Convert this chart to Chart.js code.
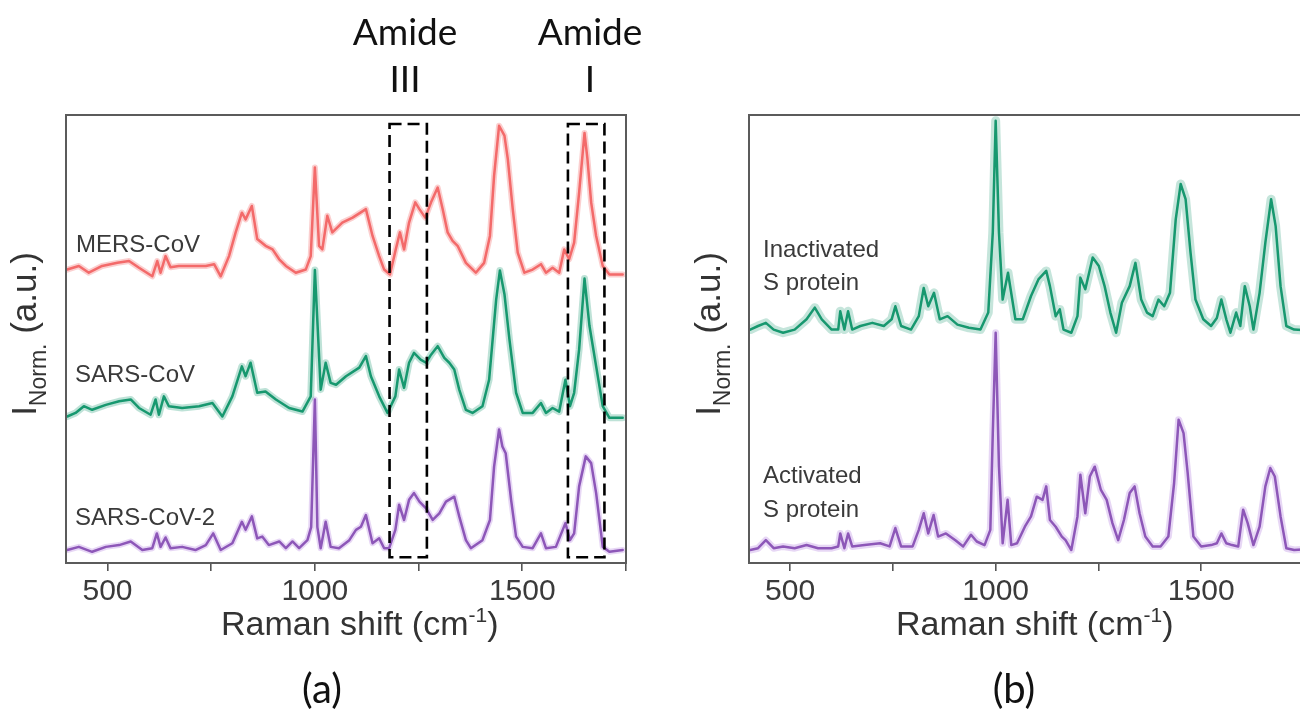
<!DOCTYPE html>
<html>
<head>
<meta charset="utf-8">
<script src="https://cdn.jsdelivr.net/npm/chart.js@4.4.1/dist/chart.umd.min.js"></script>
<style>
  html, body { margin: 0; padding: 0; background: #fff; overflow: hidden; }
  body { width: 1300px; height: 714px; position: relative; }
  canvas { position: absolute; top: 0; }
  #chartA { left: 0; }
  #chartB { left: 690px; }
  .note { position: absolute; font-family: Lato, "Open Sans", sans-serif; color: #111;
          text-align: center; line-height: 1; white-space: nowrap; }
</style>
</head>
<body>
<canvas id="chartA" width="690" height="714"></canvas>
<canvas id="chartB" width="700" height="714"></canvas>

<div class="note" style="left:345px; top:12px; width:120px; font-size:37px;">Amide</div>
<div class="note" style="left:345px; top:59px; width:120px; font-size:37px;">III</div>
<div class="note" style="left:530px; top:12px; width:120px; font-size:37px;">Amide</div>
<div class="note" style="left:530px; top:59px; width:120px; font-size:37px;">I</div>
<div class="note" style="left:272px; top:668px; width:100px; font-size:40px;">(a)</div>
<div class="note" style="left:964px; top:668px; width:100px; font-size:40px;">(b)</div>

<script>
// ---- panel (a): virus spectra, offset stacked ----
const mersShift = [403,431,455,487,524,552,576,608,620,628,
  640,652,672,705,737,757,773,793,809,824,
  833,848,861,881,898,914,930,954,978,990,
  1000,1010,1018,1030,1042,1066,1091,1123,1139,1155,
  1167,1181,1195,1205,1215,1227,1242,1252,1266,1280,
  1296,1308,1320,1332,1344,1364,1388,1408,1422,1432,
  1444,1457,1465,1477,1489,1505,1525,1545,1557,1573,
  1589,1601,1613,1625,1637,1650,1657,1666,1678,1694,
  1710,1742];
const mersInt = [65.5,66.3,64.8,66.3,67.0,67.4,65.9,64.0,67.4,64.8,
  68.5,66.0,66.3,66.3,66.3,66.7,64.0,68.5,73.8,78.2,
  76.7,79.7,72.3,70.8,70.0,67.8,66.3,64.8,65.5,68.5,
  88.3,70.8,70.0,77.5,73.8,76.0,77.1,79.0,73.0,68.5,
  65.5,64.4,70.0,73.8,70.0,76.0,80.5,79.0,77.1,80.5,
  83.8,79.0,73.8,71.9,70.8,67.0,64.8,67.0,73.0,86.4,
  97.6,95.4,90.2,79.0,69.3,64.8,65.5,66.7,64.8,65.9,
  64.8,70.0,67.8,71.5,82.7,96.0,90.2,80.5,73.0,66.3,
  64.4,64.4];

const sarsShift = [403,423,443,463,496,528,556,576,604,616,
  624,636,648,680,721,753,777,801,824,833,
  845,861,881,906,938,970,990,1000,1014,1026,
  1038,1051,1075,1107,1123,1135,1155,1175,1194,1203,
  1215,1227,1239,1255,1268,1280,1296,1312,1324,1336,
  1348,1364,1380,1404,1420,1430,1437,1446,1457,1469,
  1485,1501,1525,1545,1557,1573,1589,1604,1615,1625,
  1637,1650,1662,1678,1694,1710,1742];
const sarsInt = [32.7,33.5,35.0,34.2,35.3,36.1,36.5,34.6,33.1,36.5,
  33.1,37.2,35.0,34.6,35.0,35.7,32.7,37.2,43.9,41.7,
  44.7,38.0,38.3,36.5,34.6,33.8,37.2,65.4,38.7,44.7,
  40.2,39.8,41.7,43.6,46.2,41.7,37.2,33.5,37.2,43.2,
  39.1,44.7,46.9,45.4,44.7,46.5,48.4,45.8,44.7,43.2,
  38.7,34.2,33.5,35.0,40.9,51.4,58.8,65.3,60.0,49.9,
  38.0,33.5,33.5,35.7,33.5,34.6,33.8,40.9,35.0,38.0,
  47.7,63.5,52.9,43.9,35.0,32.4,32.4];

const sars2Shift = [403,431,463,496,528,556,584,608,619,628,
  640,652,680,712,737,755,773,801,824,833,
  848,861,873,889,914,930,946,962,982,991,
  1000,1006,1014,1026,1038,1058,1083,1099,1111,1123,
  1139,1155,1167,1179,1194,1203,1215,1227,1239,1252,
  1268,1284,1300,1316,1336,1348,1364,1376,1404,1422,
  1432,1444,1452,1460,1473,1485,1501,1525,1545,1557,
  1581,1604,1615,1625,1637,1653,1666,1678,1694,1710,
  1742];
const sars2Int = [2.9,3.6,2.5,3.6,4.0,4.8,2.9,3.3,6.6,3.6,
  5.7,3.3,3.6,2.9,4.0,6.6,2.9,4.4,9.2,7.4,
  10.4,5.5,5.9,4.0,4.8,3.3,4.8,3.3,5.1,8.0,
  36.5,8.0,3.3,9.2,3.6,3.3,5.1,7.4,8.1,10.7,
  4.4,5.5,3.3,3.3,7.4,13.0,9.6,14.1,15.6,13.7,
  12.2,9.6,11.1,13.7,14.8,10.4,5.1,3.3,5.1,9.6,
  21.5,29.8,26.0,24.5,14.1,5.9,3.6,3.3,6.6,3.3,
  3.6,8.9,5.1,6.6,17.1,23.8,22.3,15.6,3.6,2.5,
  2.9];

// Amide III and Amide I windows, cm-1
const amideRanges = [[1180, 1270], [1610, 1698]];

// ---- panel (b): S protein spectra ----
const inactShift = [403,422,441,460,483,511,540,560,577,601,617,622,632,641,651,671,700,728,747,756,
  770,794,813,825,836,850,864,883,907,935,963,982,993,1000,1008,1017,1030,1048,1066,1086,
  1104,1123,1132,1146,1156,1165,1184,1199,1206,1218,1236,1251,1265,1279,1293,1307,1326,1340,1354,1368,
  1382,1396,1410,1424,1438,1450,1462,1474,1486,1505,1524,1538,1549,1561,1571,1585,1595,1606,1618,1627,
  1642,1656,1670,1681,1693,1707,1726,1745];
const inactInt = [52.1,52.9,53.6,52.1,51.4,52.1,54.4,57.0,54.4,52.1,52.1,56.2,52.1,56.2,52.1,52.9,53.6,52.9,54.4,57.3,
  52.9,52.1,55.1,61.4,57.3,60.3,54.4,55.1,53.2,52.5,52.1,55.9,73.8,98.7,73.8,58.8,64.8,54.4,54.4,59.6,
  63.3,65.2,61.8,55.1,56.6,52.1,51.4,55.1,63.7,61.1,68.2,66.3,61.8,55.9,51.4,58.1,61.8,67.0,58.8,55.9,
  55.1,58.8,57.3,60.3,76.7,84.6,81.2,69.3,58.8,54.4,52.9,54.7,58.8,54.4,51.4,55.9,52.9,61.8,57.3,52.1,
  60.3,71.5,81.2,75.2,61.8,52.9,52.1,52.0];

const actShift = [403,422,441,460,483,511,540,568,601,617,622,632,641,651,681,719,742,756,770,798,
  813,825,836,849,860,879,902,921,940,954,973,987,993,1000,1008,1017,1029,1038,1052,1071,
  1086,1100,1114,1123,1132,1146,1161,1170,1184,1199,1206,1218,1229,1241,1256,1270,1284,1298,1312,1326,
  1338,1350,1364,1382,1401,1420,1434,1445,1457,1467,1481,1500,1524,1538,1549,1561,1575,1590,1602,1613,
  1627,1642,1656,1668,1679,1693,1707,1726,1745];
const actInt = [2.9,3.3,5.1,3.3,3.7,3.3,4.0,3.3,3.3,3.7,6.6,3.3,6.6,3.7,4.0,4.4,3.7,7.8,3.7,3.7,
  7.4,11.1,6.6,10.7,5.9,6.6,5.1,3.7,6.3,4.8,4.0,7.4,29.0,51.4,21.6,4.4,14.1,4.0,4.4,8.1,
  10.4,14.8,14.1,17.1,9.6,8.1,5.9,5.1,2.9,10.4,19.7,11.1,19.3,21.5,16.3,14.1,8.9,5.1,9.6,15.6,
  17.1,11.1,5.9,3.7,3.7,5.9,17.8,32.0,29.0,20.1,5.9,3.7,4.0,4.4,6.6,4.4,4.0,3.7,11.9,8.9,
  4.0,8.1,17.1,21.2,19.3,10.4,3.3,2.9,3.0];

const xTicks = [500, 750, 1000, 1250, 1500, 1750];
const xLabels = [500, 1000, 1500];

const RED = '#f36a6a', GREEN = '#17986f', PURPLE = '#8d57b8';
const FONT = '"Liberation Sans", Arial, sans-serif';

function spectrum(shift, intensity, color, band, bandWidth) {
  const pts = shift.map((s, i) => ({ x: s, y: intensity[i] }));
  return [
    { data: pts, borderColor: band, borderWidth: bandWidth, order: 2 },
    { data: pts, borderColor: color, borderWidth: 2.5, order: 1 }
  ];
}

// frame, amide boxes, curve names and axis titles
const decor = {
  id: 'decor',
  afterDatasetsDraw(chart, args, opts) {
    const { ctx, chartArea: a, scales: { x, y } } = chart;
    ctx.save();

    ctx.strokeStyle = '#000';
    ctx.lineWidth = 2.6;
    ctx.setLineDash([12, 6]);
    (opts.boxes || []).forEach(r => {
      const l = x.getPixelForValue(r[0]), rt = x.getPixelForValue(r[1]);
      const t = y.getPixelForValue(98), b = y.getPixelForValue(1.3);
      ctx.strokeRect(l, t, rt - l, b - t);
    });
    ctx.setLineDash([]);

    ctx.strokeStyle = '#5b5b5b';
    ctx.lineWidth = 2;
    ctx.strokeRect(a.left, a.top, a.right - a.left, a.bottom - a.top);

    ctx.fillStyle = '#3a3a3a';
    ctx.font = '24px ' + FONT;
    ctx.textBaseline = 'alphabetic';
    opts.names.forEach(n => ctx.fillText(n[0], n[1], n[2]));

    // x title with superscript
    ctx.fillStyle = '#333';
    let tx = opts.xTitle[0];
    const ty = opts.xTitle[1];
    ctx.font = '34px ' + FONT;
    ctx.fillText('Raman shift (cm', tx, ty);
    tx += ctx.measureText('Raman shift (cm').width;
    ctx.font = '21px ' + FONT;
    ctx.fillText('-1', tx, ty - 13);
    tx += ctx.measureText('-1').width;
    ctx.font = '34px ' + FONT;
    ctx.fillText(')', tx, ty);

    // y title, rotated, with subscript
    ctx.translate(opts.yTitle[0], opts.yTitle[1]);
    ctx.rotate(-Math.PI / 2);
    const big = '35px ' + FONT, small = '23px ' + FONT;
    ctx.font = big; const wI = ctx.measureText('I').width;
    const wA = ctx.measureText(' (a.u.)').width;
    ctx.font = small; const wN = ctx.measureText('Norm.').width;
    let px = -(wI + wN + wA) / 2;
    ctx.font = big; ctx.fillText('I', px, 0); px += wI;
    ctx.font = small; ctx.fillText('Norm.', px, 10); px += wN;
    ctx.font = big; ctx.fillText(' (a.u.)', px, 0);

    ctx.restore();
  }
};

function makeChart(id, datasets, padRight, yAxisWidth, decorOpts) {
  return new Chart(document.getElementById(id), {
    type: 'line',
    data: { datasets: datasets },
    options: {
      responsive: false,
      animation: false,
      events: [],
      layout: { padding: { top: 115, right: padRight, left: 0, bottom: 0 } },
      elements: {
        point: { radius: 0 },
        line: { tension: 0, borderJoinStyle: 'round', borderCapStyle: 'round', fill: false }
      },
      scales: {
        x: {
          type: 'linear',
          min: 400,
          max: 1750,
          afterBuildTicks: s => { s.ticks = xTicks.map(v => ({ value: v })); },
          afterFit: s => { s.height = 151; },
          border: { display: false },
          grid: { drawOnChartArea: false, drawTicks: true, tickLength: 8, tickColor: '#555', lineWidth: 1.6 },
          ticks: {
            padding: 3,
            color: '#3a3a3a',
            font: { family: FONT, size: 30 },
            callback: v => xLabels.includes(v) ? String(v) : ''
          }
        },
        y: {
          min: 0,
          max: 100,
          afterFit: s => { s.width = yAxisWidth; },
          border: { display: false },
          grid: { display: false },
          ticks: { display: false }
        }
      },
      plugins: {
        legend: { display: false },
        tooltip: { enabled: false },
        decor: decorOpts
      }
    },
    plugins: [decor]
  });
}

makeChart('chartA', [
  ...spectrum(mersShift, mersInt, RED, 'rgba(243,106,106,0.32)', 6),
  ...spectrum(sarsShift, sarsInt, GREEN, 'rgba(23,152,111,0.28)', 7),
  ...spectrum(sars2Shift, sars2Int, PURPLE, 'rgba(170,110,220,0.28)', 6)
], 64, 66, {
  boxes: amideRanges,
  names: [['MERS-CoV', 76, 252], ['SARS-CoV', 75, 382], ['SARS-CoV-2', 75, 525]],
  xTitle: [221, 635],
  yTitle: [36, 334]
});

makeChart('chartB', [
  ...spectrum(inactShift, inactInt, GREEN, 'rgba(23,152,111,0.25)', 9),
  ...spectrum(actShift, actInt, PURPLE, 'rgba(170,110,220,0.28)', 7)
], 86, 59, {
  boxes: [],
  names: [['Inactivated', 73, 257], ['S protein', 73, 290], ['Activated', 73, 483], ['S protein', 73, 517]],
  xTitle: [206, 635],
  yTitle: [30, 334]
});
</script>
</body>
</html>
